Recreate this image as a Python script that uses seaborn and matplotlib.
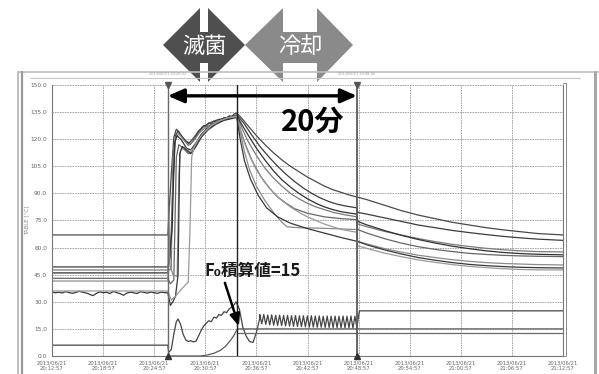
import numpy as np
import pandas as pd
import matplotlib
matplotlib.use("Agg")
import matplotlib.pyplot as plt
from matplotlib.patches import Polygon
import seaborn as sns

# ---------------- axis definitions ----------------
y_ticks = [0, 15, 30, 45, 60, 75, 90, 105, 120, 135, 150]
y_tick_labels = ["0.0", "15.0", "30.0", "45.0", "60.0", "75.0",
                 "90.0", "105.0", "120.0", "135.0", "150.0"]
x_ticks = [0, 6, 12, 18, 24, 30, 36, 42, 48, 54, 60]          # minutes from start
x_tick_labels = ["2013/06/21\n20:12:57", "2013/06/21\n20:18:57", "2013/06/21\n20:24:57",
                 "2013/06/21\n20:30:57", "2013/06/21\n20:36:57", "2013/06/21\n20:42:57",
                 "2013/06/21\n20:48:57", "2013/06/21\n20:54:57", "2013/06/21\n21:00:57",
                 "2013/06/21\n21:06:57", "2013/06/21\n21:12:57"]

# event times (minutes)
sterilize_start = 13.6
sterilize_end = 21.7
cooling_end = 35.8
span_label = "20分"
f0_label = "F₀積算値=15"

# ---------------- temperature probes (minute, °C) ----------------
probe_a = [(0, 67), (13.6, 67), (13.8, 84), (14.0, 100), (14.3, 121), (14.6, 125.5), (14.9, 124),
           (15.3, 121), (15.7, 119), (16.1, 118), (16.5, 120), (16.9, 122.5), (17.2, 124.5),
           (17.5, 126), (17.8, 127.5), (18.1, 127), (18.4, 129), (18.7, 128.5), (19.0, 130),
           (19.3, 129.5), (19.6, 131), (19.9, 130.5), (20.2, 132), (20.5, 131.5), (20.8, 133),
           (21.1, 132.5), (21.4, 134), (21.7, 134.5), (22.3, 131.5), (23, 127.5), (24, 122),
           (25, 117), (26, 112.5), (27, 108.5), (28, 105), (29, 102), (30, 99), (31, 96.5),
           (32, 94), (33, 92), (34, 90.5), (35, 89), (35.8, 88), (37, 86.5), (39, 83.5),
           (41, 80.5), (43, 78), (45, 76), (47, 74), (49, 72.5), (51, 71), (53, 69.8),
           (55, 68.8), (57, 67.8), (60, 67)]
probe_b = [(0, 49.3), (13.6, 49.3), (13.9, 55), (14.2, 95), (14.5, 122), (14.8, 124.5), (15.2, 122),
           (15.7, 119), (16.2, 117), (16.7, 120), (17.2, 124), (17.8, 127), (18.5, 129),
           (19.3, 130.5), (20.1, 131.5), (20.9, 132.5), (21.7, 133.5), (22.5, 129), (23.5, 122),
           (24.5, 115.5), (25.5, 110), (26.5, 105), (27.5, 100.5), (28.5, 96.5), (29.5, 93),
           (30.5, 90), (31.5, 87.5), (32.5, 85.5), (33.5, 84), (34.5, 83), (35.8, 82), (35.9, 79.5),
           (37, 78.5), (39, 76.5), (41, 74.5), (43, 72.5), (45, 71), (47, 69.5), (49, 68.3),
           (51, 67.2), (53, 66.2), (55, 65.4), (57, 64.7), (60, 64)]
probe_c = [(0, 47.6), (13.6, 47.6), (14.0, 48), (14.2, 110), (14.5, 121), (14.9, 123), (15.4, 120),
           (16.0, 116.5), (16.6, 119), (17.3, 123.5), (18, 126.5), (18.8, 128.5), (19.6, 130),
           (20.5, 131.5), (21.7, 133), (22.3, 126), (23, 119), (24, 111), (25, 104), (26, 98.5),
           (27, 94), (28, 90), (29, 87), (30, 84.5), (31, 82.5), (32, 81), (33, 79.5), (34, 78.5),
           (35.8, 77), (35.9, 73), (37, 71.5), (39, 69), (41, 67), (43, 65), (45, 63.3),
           (47, 61.8), (49, 60.6), (51, 59.6), (53, 58.8), (55, 58.2), (57, 57.8), (60, 57.6)]
probe_d = [(0, 46), (13.6, 46), (14.1, 70), (14.4, 118), (14.7, 122), (15.2, 119.5), (15.8, 115),
           (16.3, 114), (16.9, 118), (17.5, 122.5), (18.2, 126), (19, 128.5), (20, 130.5),
           (21, 132), (21.7, 133), (22.3, 128), (23, 122.5), (24, 115), (25, 108.5), (26, 102.5),
           (27, 97.5), (28, 93.5), (29, 90), (30, 87), (31, 84.5), (32, 82.5), (33, 81),
           (34, 79.8), (35.8, 78.5), (35.9, 74.5), (37, 72.5), (39, 69.5), (41, 66.8), (43, 64.5),
           (45, 62.5), (47, 60.8), (49, 59.4), (51, 58.2), (53, 57.3), (55, 56.7), (57, 56.3),
           (60, 56)]
probe_e = [(0, 43), (13.6, 43), (13.9, 40), (14.3, 42), (14.6, 110), (14.9, 117), (15.4, 115),
           (16, 112), (16.5, 113), (17, 117), (17.6, 121.5), (18.3, 125), (19.2, 128),
           (20.2, 130.5), (21, 131.5), (21.7, 132.5), (22.2, 124), (22.8, 116), (23.5, 108),
           (24.5, 99.5), (25.5, 93), (26.5, 88), (27.5, 84.5), (28.5, 81.5), (30, 79), (32, 77),
           (34, 76), (35.8, 75.5), (35.9, 70), (37, 68), (39, 65), (41, 62.5), (43, 60.5),
           (45, 59), (47, 57.8), (49, 56.8), (51, 56.2), (53, 55.7), (55, 55.4), (57, 55.2),
           (60, 55)]
probe_f = [(0, 41.5), (13.6, 41.5), (13.7, 83), (13.85, 50), (14.2, 45), (14.7, 44), (14.9, 100),
           (15.1, 114), (15.6, 115.5), (16.1, 113), (16.6, 115), (17.2, 119.5), (17.9, 124),
           (18.7, 127.5), (19.6, 130), (20.6, 131.8), (21.7, 133), (22.1, 124), (22.6, 113),
           (23.2, 103), (24, 94), (25, 86), (26, 79.5), (27, 74), (27.6, 71.5), (29, 71),
           (31, 70.8), (33, 70.5), (35.8, 70), (35.9, 63.5), (37, 62), (39, 59.5), (41, 57.5),
           (43, 55.8), (45, 54.5), (47, 53.3), (49, 52.4), (51, 51.7), (53, 51.2), (55, 50.9),
           (57, 50.6), (60, 50.4)]
# probe G: logged every 0.4 min before heating, then irregular points
probe_g_idle = [35.4, 35.0, 35.3, 34.9, 35.6, 35.1, 34.7, 35.2, 35.8, 35.3, 34.9, 34.2, 33.4,
                34.6, 35.5, 35.0, 35.3, 34.6, 35.7, 35.1, 34.5, 33.6, 34.9, 35.3, 35.0, 34.6,
                35.6, 35.2, 34.8, 35.4, 35.0, 34.7, 35.3, 35.1]
probe_g = [(13.6, 35), (13.9, 28), (14.2, 30), (14.5, 33), (14.8, 45), (15.0, 112), (15.3, 116),
           (15.8, 114), (16.3, 112), (16.9, 116), (17.5, 121), (18.3, 125.5), (19.2, 128.5),
           (20.2, 130.5), (21, 131.3), (21.7, 132), (22.1, 120), (22.6, 108), (23.3, 98),
           (24.2, 89), (25.2, 82), (26.5, 77), (28, 73.5), (30, 70.5), (32, 68), (34, 65.5),
           (35.8, 63.5), (37, 61.5), (39, 58.8), (41, 56.5), (43, 54.5), (45, 53), (47, 51.7),
           (49, 50.7), (51, 50), (53, 49.5), (55, 49.1), (57, 48.9), (60, 48.7)]
probe_h = [(0, 36), (13.6, 36), (14.0, 31), (14.5, 33), (15.0, 36), (15.6, 39), (16.0, 41),
           (16.2, 70), (16.4, 110), (16.7, 116), (17.2, 120), (17.9, 124), (18.7, 127.5),
           (19.6, 130), (20.6, 131.8), (21.7, 132.5), (22.3, 122), (23, 113), (24, 103),
           (25, 96), (26, 90.5), (27, 86), (28, 82.5), (29, 79.5), (30, 77), (31, 75), (32, 73),
           (33, 71.5), (34, 70), (35.8, 68.5), (35.9, 61), (37, 59.5), (39, 57), (41, 55),
           (43, 53.2), (45, 51.8), (47, 50.6), (49, 49.6), (51, 48.9), (53, 48.3), (55, 47.9),
           (57, 47.7), (60, 47.6)]

# chamber signal at the bottom of the chart
chamber_heat = [(0, 6), (13.6, 6), (13.7, 2), (14.0, 3.5), (14.3, 12), (14.6, 19), (14.8, 20.5),
                (15.1, 17.5), (15.4, 12), (15.7, 9), (16.0, 8), (16.3, 8.5), (16.6, 7.8),
                (16.9, 8.2), (17.2, 11), (17.5, 14), (17.8, 16.5), (18.1, 18), (18.4, 19.5),
                (18.7, 19), (19.0, 21.5), (19.3, 21), (19.6, 23), (19.9, 22.5), (20.2, 24.5),
                (20.5, 24), (20.8, 26), (21.1, 27), (21.4, 28.5), (21.6, 30), (22.0, 26),
                (22.4, 16), (22.8, 11), (23.2, 8), (23.6, 7.5), (24.0, 13), (24.4, 21)]
chamber_cool_pulses = [22.9, 17.8, 23.0, 17.5, 22.7, 17.2, 22.8, 17.0, 22.5, 16.9, 22.6, 16.8,
                       22.4, 16.6, 22.5, 16.5, 22.3, 16.4, 22.4, 16.3, 22.2, 16.2, 22.3, 16.1,
                       22.2, 16.0, 22.3, 16.0, 22.1, 15.9, 22.2, 15.9, 22.0, 15.8, 22.1, 15.8,
                       22.0, 15.7, 22.1, 15.7, 22.0, 15.6, 22.1, 15.6, 22.0, 15.6, 22.1, 15.5,
                       22.0, 15.8]
chamber_hold = [(35.8, 16), (36.1, 25), (60, 25)]

# accumulated F0 value
f0_value = [(13.6, 0), (17.4, 0), (18.2, 0.5), (19.0, 1.5), (19.8, 3.2), (20.4, 5.5),
            (20.9, 8.3), (21.3, 11), (21.6, 13.5), (21.8, 15), (60, 15)]
drain_line = [(21.8, 12.7), (60, 12.7)]

# ---------------- long-form table ----------------
frames = []
def add(name, pairs):
    arr = np.asarray(pairs, dtype=float)
    frames.append(pd.DataFrame({"t": arr[:, 0], "v": arr[:, 1], "series": name}))

add("A", probe_a); add("B", probe_b); add("C", probe_c); add("D", probe_d)
add("E", probe_e); add("F", probe_f)
g_idle_t = np.arange(len(probe_g_idle)) * 0.4
add("G", list(zip(g_idle_t, probe_g_idle)) + probe_g)
add("H", probe_h)
pulse_t = np.linspace(24.4, 35.8, len(chamber_cool_pulses))
add("P", chamber_heat + list(zip(pulse_t, chamber_cool_pulses)) + chamber_hold)
add("F0", f0_value)
add("Z", drain_line)
df = pd.concat(frames, ignore_index=True)

palette = {"A": "#4a4a4a", "B": "#3c3c3c", "C": "#7a7a7a", "D": "#303030", "E": "#666666",
           "F": "#8c8c8c", "G": "#383838", "H": "#9a9a9a", "P": "#454545", "F0": "#5a5a5a",
           "Z": "#6a6a6a"}

# ---------------- drawing ----------------
sns.set_theme(style="white")
plt.rcParams["font.family"] = ["DejaVu Sans"]
cjk = ["Noto Sans CJK JP", "DejaVu Sans"]

fig = plt.figure(figsize=(5.99, 3.74), dpi=100)
fig.patch.set_facecolor("white")
ax = fig.add_axes([52 / 599, 18 / 374, 511 / 599, 271 / 374])

sns.lineplot(data=df, x="t", y="v", hue="series", palette=palette, estimator=None,
             sort=False, legend=False, linewidth=0.9, ax=ax)

ax.set_xlim(0, 60)
ax.set_ylim(0, 150)
ax.set_xticks(x_ticks)
ax.set_xticklabels(x_tick_labels, fontsize=3.8, color="#666666", linespacing=1.0)
ax.set_yticks(y_ticks)
ax.set_yticklabels(y_tick_labels, fontsize=4.2, color="#666666")
ax.tick_params(length=2, width=0.5, color="#888888", pad=1.5)
ax.set_xlabel("")
ax.set_ylabel("")
ax.grid(True, color="#9a9a9a", lw=0.6, ls=(0, (2, 1)))
ax.set_axisbelow(True)
for side, sp in ax.spines.items():
    sp.set_color("#777777")
    sp.set_linewidth(0.8)
ax.spines["top"].set_visible(False)

# event lines and markers
ax.axvline(sterilize_start, color="#6a6a6a", lw=1.0, zorder=3)
ax.axvline(sterilize_end, color="#202020", lw=1.0, zorder=3)
ax.axvline(cooling_end, color="#5a5a5a", lw=1.3, zorder=3)
ax.plot([sterilize_start, cooling_end], [150, 150], marker="v", ls="none", color="#555555",
        ms=4, clip_on=False, zorder=5)
ax.plot([sterilize_start, cooling_end], [0, 0], marker="^", ls="none", color="#333333",
        ms=4, clip_on=False, zorder=5)

# span arrow and its label
ax.annotate("", xy=(sterilize_start, 144), xytext=(cooling_end, 144),
            arrowprops=dict(arrowstyle="<|-|>,head_length=0.8,head_width=0.35",
                            color="black", lw=2.4, shrinkA=0, shrinkB=0), zorder=6)
ax.text(30.6, 129.5, span_label, ha="center", va="center", fontsize=21,
        fontweight="bold", family=cjk, color="black", zorder=6)

# F0 annotation
ax.text(17.9, 47, f0_label, ha="left", va="center", fontsize=12, family=cjk,
        fontweight="bold", color="#1a1a1a", zorder=6)
ax.annotate("", xy=(21.95, 16.5), xytext=(20.3, 40.5),
            arrowprops=dict(arrowstyle="-|>,head_length=0.6,head_width=0.25",
                            color="black", lw=1.8, shrinkA=0, shrinkB=0), zorder=6)

# ---------------- window frame and phase banners (pixel coordinates) ----------------
ov = fig.add_axes([0, 0, 1, 1], facecolor="none")
ov.set_xlim(0, 599)
ov.set_ylim(374, 0)
ov.axis("off")

ov.plot([18, 598], [72, 72], color="#bdbdbd", lw=1.2)
ov.plot([30, 580], [77.5, 77.5], color="#c8c8c8", lw=0.8)
ov.plot([18, 18], [72, 374], color="#b0b0b0", lw=1.2)
ov.plot([21.5, 21.5], [72, 374], color="#9a9a9a", lw=1.6)
ov.plot([594.5, 594.5], [72, 374], color="#a8a8a8", lw=2.2)
ov.plot([563, 566, 566, 563], [83, 83, 356, 356], color="#888888", lw=0.7)
ov.text(27, 220, "TABLE [°C]", rotation=90, fontsize=4, color="#888888",
        ha="center", va="center")
for xp, stamp in ((168, "2013/06/21 20:26:33"), (357, "2013/06/21 20:48:45")):
    ov.text(xp, 76, stamp, fontsize=2.5, color="#999999", ha="center", va="bottom")

def banner(x0, x1, gap0, gap1, color, label):
    top, mid, bot = 8, 45, 82
    s_top, s_bot = 32, 63
    pts = [(x0, mid), (gap0, top), (gap0, s_top), (gap1, s_top), (gap1, top), (x1, mid),
           (gap1, bot), (gap1, s_bot), (gap0, s_bot), (gap0, bot)]
    ov.add_patch(Polygon(pts, closed=True, facecolor=color, edgecolor="none"))
    ov.text((gap0 + gap1) / 2, 46, label, fontsize=16, color="white", family=cjk,
            ha="center", va="center")

banner(163, 245, 200, 208, "#4f4f4f", "滅菌")
banner(245, 353, 283, 317, "#8a8a8a", "冷却")

fig.savefig("out.png", dpi=100, facecolor="white")
